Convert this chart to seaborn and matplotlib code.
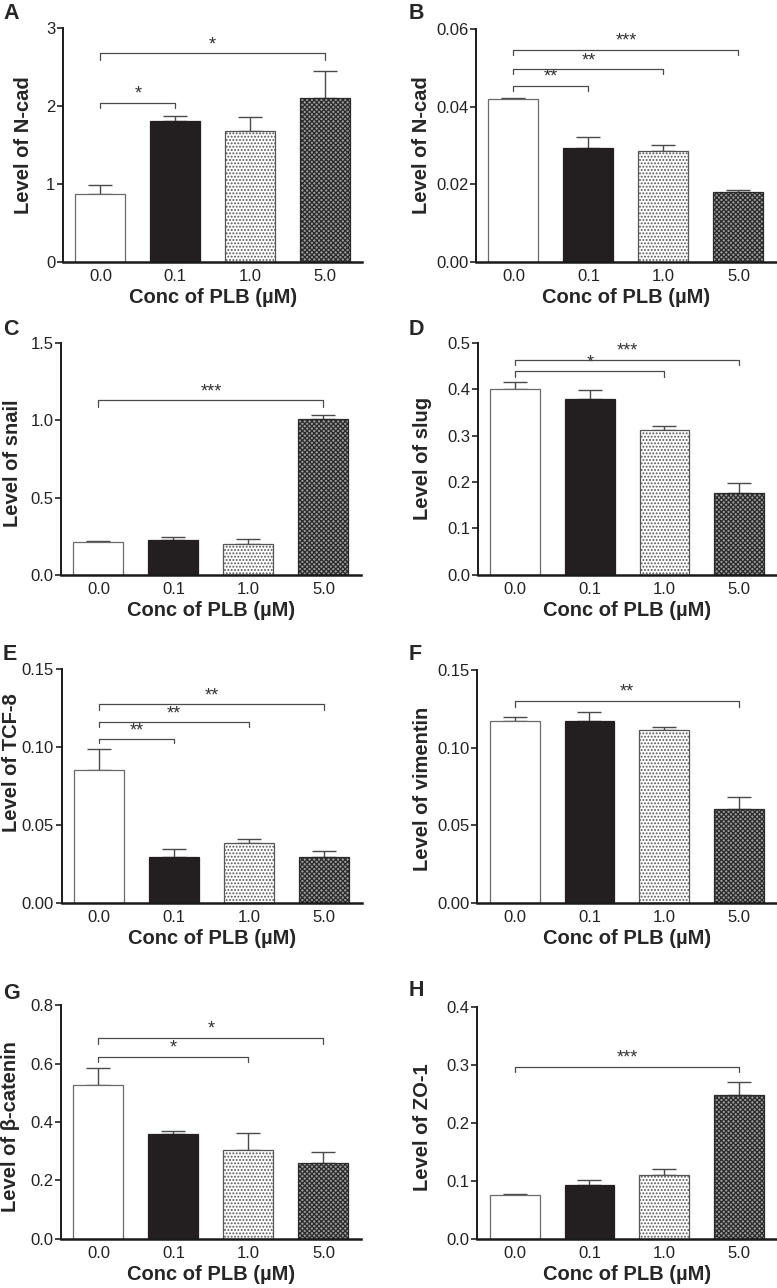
"""
Bar panels A-H: marker levels vs PLB concentration (mean + SEM, significance brackets)
"""

import matplotlib
matplotlib.use("Agg")
import matplotlib.pyplot as plt
import seaborn as sns
import pandas as pd

# ---------------------------------------------------------------------------
# Data
# ---------------------------------------------------------------------------
conc = ["0.0", "0.1", "1.0", "5.0"]

ncad_a_mean = [0.87, 1.80, 1.68, 2.10]
ncad_a_sem  = [0.11, 0.07, 0.17, 0.35]
ncad_b_mean = [0.0421, 0.0293, 0.0287, 0.0179]
ncad_b_sem  = [0.0001, 0.0028, 0.0015, 0.0006]
snail_mean  = [0.211, 0.224, 0.198, 1.009]
snail_sem   = [0.011, 0.023, 0.034, 0.026]
slug_mean   = [0.401, 0.379, 0.312, 0.177]
slug_sem    = [0.015, 0.018, 0.008, 0.020]
tcf8_mean   = [0.0852, 0.0293, 0.0383, 0.0293]
tcf8_sem    = [0.0136, 0.0054, 0.0026, 0.0039]
vim_mean    = [0.1172, 0.1174, 0.1112, 0.0605]
vim_sem     = [0.0025, 0.0058, 0.0021, 0.0075]
bcat_mean   = [0.528, 0.360, 0.304, 0.261]
bcat_sem    = [0.056, 0.008, 0.057, 0.035]
zo1_mean    = [0.0747, 0.092, 0.109, 0.2477]
zo1_sem     = [0.0029, 0.009, 0.0105, 0.0223]

# brackets: (right-hand group index, bracket height, end-drop height, label), all from group 0
brk_a = [(1, 2.04, 1.97, "*"), (3, 2.67, 2.59, "*")]
brk_b = [(1, 0.0454, 0.0440, "**"), (2, 0.0497, 0.0485, "**"), (3, 0.0547, 0.0533, "***")]
brk_c = [(3, 1.128, 1.087, "***")]
brk_d = [(2, 0.438, 0.427, "*"), (3, 0.463, 0.451, "***")]
brk_e = [(1, 0.1053, 0.1025, "**"), (2, 0.1162, 0.1128, "**"), (3, 0.1275, 0.1239, "**")]
brk_f = [(3, 0.1303, 0.1264, "**")]
brk_g = [(2, 0.624, 0.605, "*"), (3, 0.689, 0.669, "*")]
brk_h = [(3, 0.2966, 0.2868, "***")]

yticks_a = [0, 1, 2, 3];                    ytl_a = ["0", "1", "2", "3"]
yticks_b = [0, 0.02, 0.04, 0.06];           ytl_b = ["0.00", "0.02", "0.04", "0.06"]
yticks_c = [0, 0.5, 1.0, 1.5];              ytl_c = ["0.0", "0.5", "1.0", "1.5"]
yticks_d = [0, 0.1, 0.2, 0.3, 0.4, 0.5];    ytl_d = ["0.0", "0.1", "0.2", "0.3", "0.4", "0.5"]
yticks_e = [0, 0.05, 0.10, 0.15];           ytl_e = ["0.00", "0.05", "0.10", "0.15"]
yticks_f = [0, 0.05, 0.10, 0.15];           ytl_f = ["0.00", "0.05", "0.10", "0.15"]
yticks_g = [0, 0.2, 0.4, 0.6, 0.8];         ytl_g = ["0.0", "0.2", "0.4", "0.6", "0.8"]
yticks_h = [0, 0.1, 0.2, 0.3, 0.4];         ytl_h = ["0.0", "0.1", "0.2", "0.3", "0.4"]

# ---------------------------------------------------------------------------
# Style
# ---------------------------------------------------------------------------
sns.set_style("ticks")
plt.rcParams["font.family"] = ["Liberation Sans", "DejaVu Sans"]
plt.rcParams["hatch.linewidth"] = 0.9

BAR_EDGE   = "#6a6a6a"
DARK       = "#231f20"
LINE_GRAY  = "#4a4a4a"
FACES      = ["white", DARK, "white", "#9a9a9a"]
HATCHES    = [None, None, ".....", "xxxxxxx"]
HATCH_EDGE = [BAR_EDGE, DARK, "#555555", "#2a2a2a"]

FIG_W, FIG_H = 777, 1288
fig = plt.figure(figsize=(FIG_W / 100, FIG_H / 100), dpi=100)

# (letter, ylabel, mean, sem, brackets, yticks, yticklabels, axes rect,
#  y-label centre: px left of spine, fraction of axis height)
panels = [
    ("A", "Level of N-cad",     ncad_a_mean, ncad_a_sem, brk_a, yticks_a, ytl_a, [0.0811, 0.7968, 0.385, 0.1817], 40, 0.50),
    ("B", "Level of N-cad",     ncad_b_mean, ncad_b_sem, brk_b, yticks_b, ytl_b, [0.6126, 0.7968, 0.386, 0.1804], 54, 0.50),
    ("C", "Level of snail",     snail_mean,  snail_sem,  brk_c, yticks_c, ytl_c, [0.0785, 0.5536, 0.386, 0.1804], 48, 0.48),
    ("D", "Level of slug",      slug_mean,   slug_sem,   brk_d, yticks_d, ytl_d, [0.6152, 0.5536, 0.384, 0.1804], 56, 0.50),
    ("E", "Level of TCF-8",     tcf8_mean,   tcf8_sem,   brk_e, yticks_e, ytl_e, [0.0794, 0.2989, 0.386, 0.1814], 50, 0.60),
    ("F", "Level of vimentin",  vim_mean,    vim_sem,    brk_f, yticks_f, ytl_f, [0.6143, 0.2989, 0.385, 0.1809], 55, 0.49),
    ("G", "Level of β-catenin", bcat_mean,   bcat_sem,   brk_g, yticks_g, ytl_g, [0.0785, 0.0383, 0.386, 0.1812], 50, 0.48),
    ("H", "Level of ZO-1",      zo1_mean,    zo1_sem,    brk_h, yticks_h, ytl_h, [0.6143, 0.0383, 0.385, 0.1801], 55, 0.48),
]

letter_pos = {"A": (0.004, 0.998), "B": (0.526, 0.998), "C": (0.004, 0.752),
              "D": (0.526, 0.752), "E": (0.004, 0.500), "F": (0.526, 0.500),
              "G": (0.004, 0.237), "H": (0.526, 0.239)}

for letter, ylabel, mean, sem, brackets, yt, ytl, rect, lab_dx, lab_y in panels:
    ax = fig.add_axes(rect)
    df = pd.DataFrame({"conc": conc, "level": mean})
    sns.barplot(data=df, x="conc", y="level", order=conc, color="white",
                errorbar=None, width=0.667, ax=ax)
    for k, bar in enumerate(ax.patches):
        bar.set_facecolor(FACES[k])
        bar.set_edgecolor(HATCH_EDGE[k])
        bar.set_linewidth(0.9)
        if HATCHES[k]:
            bar.set_hatch(HATCHES[k])
        bar.set_zorder(2)

    ax.errorbar(range(len(conc)), mean, yerr=[[0] * len(sem), sem], fmt="none",
                ecolor=LINE_GRAY, elinewidth=1.0, capsize=8.5, capthick=1.0, zorder=1)

    for j, ytop, ydrop, lab in brackets:
        ax.plot([0, 0, j, j], [ydrop, ytop, ytop, ydrop], color=LINE_GRAY,
                lw=0.9, clip_on=False, zorder=3)
        ax.annotate(lab, xy=(j / 2, ytop), xytext=(0, 0), textcoords="offset points",
                    ha="center", va="bottom", fontsize=13, color="#333333")

    ax.set_xlim(-0.5, 3.5)
    ax.set_ylim(0, yt[-1])
    ax.set_yticks(yt)
    ax.set_yticklabels(ytl)
    ax.tick_params(axis="y", length=4, width=1.2, labelsize=12, colors="#222222", pad=1.5)
    ax.tick_params(axis="x", length=0, labelsize=12, colors="#222222", pad=5)
    ax.set_xlabel("Conc of PLB (µM)", fontsize=14.5, fontweight="bold", labelpad=3)
    ax.set_ylabel(ylabel, fontsize=14.5, fontweight="bold", va="center")
    ax.yaxis.set_label_coords(-lab_dx / (rect[2] * FIG_W), lab_y)
    sns.despine(ax=ax)
    ax.spines["left"].set_linewidth(1.4)
    ax.spines["bottom"].set_linewidth(1.8)
    ax.spines["left"].set_color("#1a1a1a")
    ax.spines["bottom"].set_color("#1a1a1a")

    lx, ly = letter_pos[letter]
    fig.text(lx, ly, letter, fontsize=15.5, fontweight="bold", ha="left", va="top")

fig.savefig("out.png", dpi=100)
